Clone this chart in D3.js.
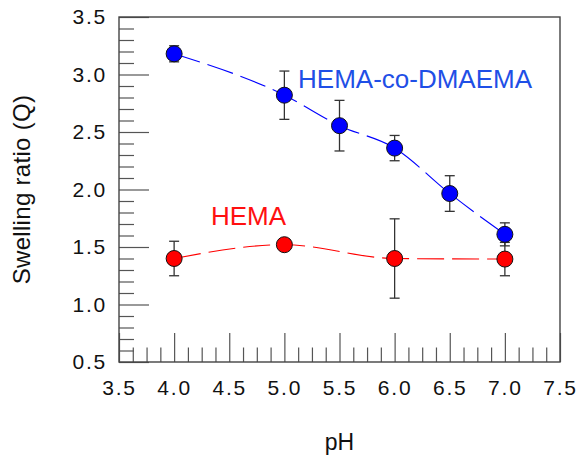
<!DOCTYPE html>
<html>
<head>
<meta charset="utf-8">
<script src="https://cdn.jsdelivr.net/npm/d3@7"></script>
<style>
  body { margin: 0; background: #fff; }
  svg text { font-family: "Liberation Sans", Arial, sans-serif; }
</style>
</head>
<body>
<div id="chart"></div>
<script>
// HEMA-co-DMAEMA (blue)
const phCo = [4.0, 5.0, 5.5, 6.0, 6.5, 7.0];
const qCo = [3.18, 2.82, 2.555, 2.36, 1.965, 1.61];
const errCo = [0.07, 0.21, 0.22, 0.11, 0.155, 0.10];

// HEMA (red)
const phHema = [4.0, 5.0, 6.0, 7.0];
const qHema = [1.40, 1.52, 1.40, 1.395];
const errHema = [0.15, 0.03, 0.345, 0.145];

const xMajor = [3.5, 4.0, 4.5, 5.0, 5.5, 6.0, 6.5, 7.0, 7.5];
const yMajor = [0.5, 1.0, 1.5, 2.0, 2.5, 3.0, 3.5];

const W = 578, H = 457;
const margin = {top: 17, right: 18, bottom: 95, left: 119};

const svg = d3.select('#chart').append('svg')
  .attr('width', W).attr('height', H);

const x = d3.scaleLinear().domain([3.5, 7.5]).range([margin.left, W - margin.right]);
const y = d3.scaleLinear().domain([0.5, 3.5]).range([H - margin.bottom, margin.top]);

const xMinor = d3.range(3.5, 7.5001, 0.125).filter(v => Math.abs(v * 2 - Math.round(v * 2)) > 1e-6);
const yMinor = d3.range(0.5, 3.5001, 0.1).filter(v => Math.abs(v * 2 - Math.round(v * 2)) > 1e-6);

const fmt = d3.format('.1f');
const axisColor = '#444';

// minor ticks
svg.append('g')
  .attr('transform', 'translate(0,' + y(0.5) + ')')
  .call(d3.axisBottom(x).tickValues(xMinor).tickSize(-14.5).tickFormat(''))
  .call(g => g.select('.domain').remove());
svg.append('g')
  .attr('transform', 'translate(' + x(3.5) + ',0)')
  .call(d3.axisLeft(y).tickValues(yMinor).tickSize(-15).tickFormat(''))
  .call(g => g.select('.domain').remove());

// major ticks + labels
const xAxis = svg.append('g')
  .attr('transform', 'translate(0,' + y(0.5) + ')')
  .call(d3.axisBottom(x).tickValues(xMajor).tickSize(-29).tickPadding(18).tickFormat(fmt));
xAxis.select('.domain').remove();
xAxis.selectAll('text')
  .attr('font-size', 21).style('letter-spacing', '1.8px').attr('fill', '#111')
  .attr('font-family', '"Liberation Sans", Arial, sans-serif');

const yAxis = svg.append('g')
  .attr('transform', 'translate(' + x(3.5) + ',0)')
  .call(d3.axisLeft(y).tickValues(yMajor).tickSize(-30).tickPadding(12).tickFormat(fmt));
yAxis.select('.domain').remove();
yAxis.selectAll('text')
  .attr('font-size', 21).style('letter-spacing', '1.8px').attr('fill', '#111')
  .attr('font-family', '"Liberation Sans", Arial, sans-serif');

svg.selectAll('.tick line').attr('stroke', '#555').attr('stroke-width', 1.2);

// frame
svg.append('rect')
  .attr('x', x(3.5)).attr('y', y(3.5))
  .attr('width', x(7.5) - x(3.5)).attr('height', y(0.5) - y(3.5))
  .attr('fill', 'none').attr('stroke', axisColor).attr('stroke-width', 1.4);

// axis titles
svg.append('text')
  .attr('x', (x(3.5) + x(7.5)) / 2).attr('y', 450)
  .attr('text-anchor', 'middle').attr('font-size', 23).attr('fill', '#111')
  .text('pH');

svg.append('text')
  .attr('transform', 'translate(30,' + (y(0.5) + y(3.5)) / 2 + ') rotate(-90)')
  .attr('text-anchor', 'middle').attr('font-size', 24).attr('fill', '#111')
  .style('letter-spacing', '0.3px')
  .text('Swelling ratio (Q)');

const addSeries = (ph, q, err, color) => {
  const pts = ph.map((p, i) => ({p: p, q: q[i], e: err[i]}));

  const line = d3.line()
    .x(d => x(d.p)).y(d => y(d.q))
    .curve(d3.curveMonotoneX);

  svg.append('path')
    .datum(pts)
    .attr('d', line)
    .attr('fill', 'none')
    .attr('stroke', color)
    .attr('stroke-width', 1.1)
    .attr('stroke-dasharray', '27,8');

  const bars = svg.append('g')
    .selectAll('g')
    .data(pts)
    .enter()
    .append('g')
    .attr('stroke', '#333')
    .attr('stroke-width', 1.3);

  bars.append('line')
    .attr('x1', d => x(d.p)).attr('x2', d => x(d.p))
    .attr('y1', d => y(d.q - d.e)).attr('y2', d => y(d.q + d.e));
  bars.append('line')
    .attr('x1', d => x(d.p) - 5).attr('x2', d => x(d.p) + 5)
    .attr('y1', d => y(d.q + d.e)).attr('y2', d => y(d.q + d.e));
  bars.append('line')
    .attr('x1', d => x(d.p) - 5).attr('x2', d => x(d.p) + 5)
    .attr('y1', d => y(d.q - d.e)).attr('y2', d => y(d.q - d.e));

  svg.append('g')
    .selectAll('circle')
    .data(pts)
    .enter()
    .append('circle')
    .attr('cx', d => x(d.p))
    .attr('cy', d => y(d.q))
    .attr('r', 8)
    .attr('fill', color)
    .attr('stroke', '#111')
    .attr('stroke-width', 1);
};

addSeries(phHema, qHema, errHema, '#ff0000');
addSeries(phCo, qCo, errCo, '#0000ff');

// series labels
svg.append('text')
  .attr('x', x(5.124)).attr('y', y(2.883))
  .attr('font-size', 26).attr('fill', '#1f4fe6')
  .text('HEMA-co-DMAEMA');

svg.append('text')
  .attr('x', x(4.334)).attr('y', y(1.69))
  .attr('font-size', 26).attr('fill', '#ff1010')
  .text('HEMA');
</script>
</body>
</html>
